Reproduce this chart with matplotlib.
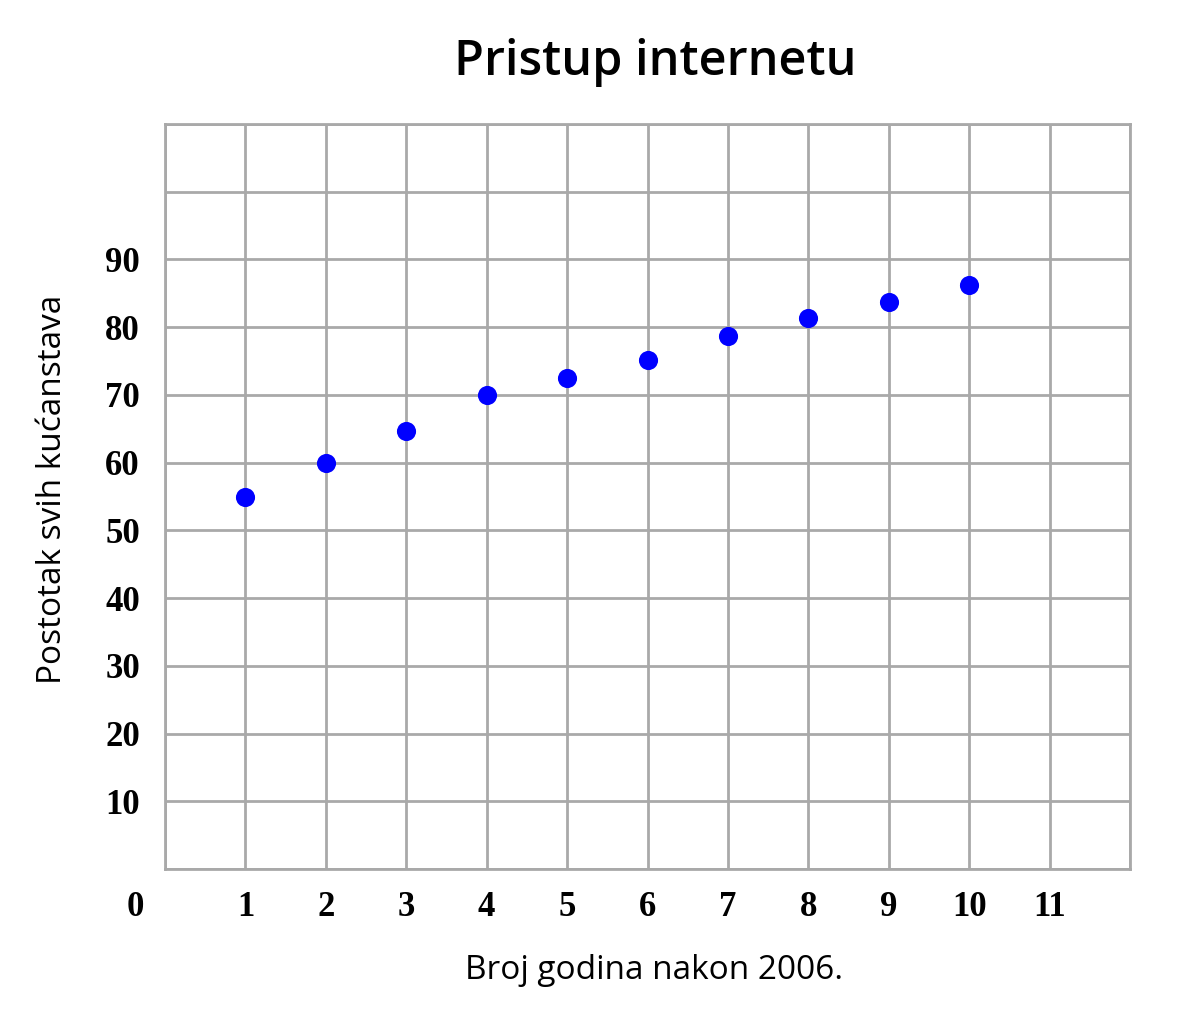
import matplotlib
matplotlib.use("Agg")
import matplotlib.pyplot as plt

# data
years = [1, 2, 3, 4, 5, 6, 7, 8, 9, 10]
share = [55, 60, 64.7, 70, 72.5, 75.2, 78.7, 81.3, 83.7, 86.2]
x_ticks = list(range(0, 13))
x_labels = ["" if v in (0, 12) else str(v) for v in x_ticks]
y_ticks = list(range(0, 111, 10))
y_labels = [str(v) if 10 <= v <= 90 else "" for v in y_ticks]

GRID = "#a9a9a9"
BLUE = "#0000ff"

fig = plt.figure(figsize=(11.88, 10.24), dpi=100)
ax = fig.add_axes([165 / 1188, 1 - 869 / 1024, 965 / 1188, 745 / 1024])

ax.scatter(years, share, s=190, color=BLUE, zorder=3, linewidths=0)

ax.set_xlim(0, 12)
ax.set_ylim(0, 110)
ax.set_xticks(x_ticks)
ax.set_xticklabels(x_labels)
ax.set_yticks(y_ticks)
ax.set_yticklabels(y_labels)
ax.grid(True, color=GRID, linewidth=2.0)
ax.set_axisbelow(True)
for sp in ax.spines.values():
    sp.set_color(GRID)
    sp.set_linewidth(2.0)
ax.tick_params(axis="x", length=0, pad=16)
ax.tick_params(axis="y", length=0, pad=18)
for lab in ax.get_xticklabels() + ax.get_yticklabels():
    lab.set_fontfamily("Liberation Serif")
    lab.set_fontweight("bold")
    lab.set_fontsize(25)

# the lone "0" in the corner
ax.text(-0.37, -5.75, "0", fontsize=25, fontweight="bold", family="Liberation Serif",
        ha="center", va="center", clip_on=False)

ax.text(0.508, 1.083, "Pristup internetu", transform=ax.transAxes, fontsize=35,
        fontweight="semibold", family="Open Sans", ha="center", va="center")
ax.text(0.507, -0.136, "Broj godina nakon 2006.", transform=ax.transAxes,
        fontsize=24, family="Open Sans", ha="center", va="center")
ax.text(-0.117, 0.509, "Postotak svih kućanstava", transform=ax.transAxes,
        fontsize=24, family="Open Sans", ha="center", va="center", rotation=90)

fig.savefig("out.png")
